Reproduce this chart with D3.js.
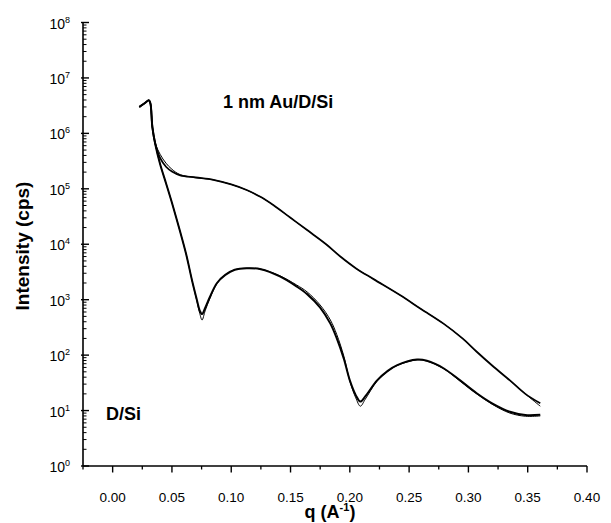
<!DOCTYPE html>
<html>
<head>
<meta charset="utf-8">
<script src="https://cdn.jsdelivr.net/npm/d3@7"></script>
<style>
  body { margin: 0; background: #fff; }
  text { font-family: "Liberation Sans", Arial, sans-serif; fill: #000; }
</style>
</head>
<body>
<div id="chart"></div>
<script>
// q values (A^-1) and intensities (cps)
const qAu = [0.0225, 0.027, 0.0305, 0.0318, 0.0335, 0.036, 0.040, 0.045, 0.050, 0.057, 0.070, 0.085,
  0.100, 0.113, 0.125, 0.136, 0.150, 0.164, 0.180, 0.192, 0.205, 0.220, 0.2426, 0.260, 0.279,
  0.295, 0.307, 0.320, 0.335, 0.348, 0.3606];
const auA = [3.0e6, 3.5e6, 3.95e6, 3.5e6, 1.3e6, 6.5e5, 3.6e5, 2.5e5, 2.05e5, 1.75e5, 1.6e5, 1.45e5,
  1.2e5, 9.5e4, 7.1e4, 5.0e4, 3.0e4, 1.8e4, 1.0e4, 6.0e3, 3.7e3, 2.35e3, 1.2e3, 6.8e2, 3.7e2,
  2.0e2, 1.15e2, 6.5e1, 3.5e1, 2.0e1, 1.35e1];
const auB = [3.0e6, 3.5e6, 3.95e6, 3.5e6, 1.3e6, 6.6e5, 4.2e5, 2.9e5, 2.25e5, 1.8e5, 1.6e5, 1.45e5,
  1.2e5, 9.5e4, 7.1e4, 5.0e4, 3.0e4, 1.8e4, 1.0e4, 6.0e3, 3.7e3, 2.35e3, 1.2e3, 6.8e2, 3.7e2,
  2.0e2, 1.15e2, 6.5e1, 3.5e1, 2.0e1, 1.2e1];

const qSi = [0.0225, 0.027, 0.0305, 0.0318, 0.0335, 0.036, 0.040, 0.045, 0.050, 0.057, 0.062, 0.067,
  0.071, 0.0735, 0.0754, 0.078, 0.082, 0.088, 0.095, 0.103, 0.113, 0.125, 0.141, 0.155, 0.164,
  0.175, 0.1836, 0.189, 0.195, 0.200, 0.205, 0.2089, 0.213, 0.223, 0.232, 0.240, 0.2567, 0.265,
  0.279, 0.293, 0.307, 0.320, 0.335, 0.348, 0.3606];
const siA = [3.0e6, 3.5e6, 3.95e6, 3.5e6, 1.3e6, 6.3e5, 2.8e5, 1.26e5, 5.6e4, 1.66e4, 6.6e3, 2.2e3,
  1.0e3, 6.3e2, 5.5e2, 7.1e2, 1.12e3, 2.0e3, 2.8e3, 3.47e3, 3.7e3, 3.55e3, 2.63e3, 1.74e3, 1.26e3,
  7.2e2, 3.7e2, 2.0e2, 8.5e1, 3.5e1, 1.9e1, 1.45e1, 1.8e1, 3.5e1, 5.2e1, 6.6e1, 8.3e1, 7.9e1,
  5.8e1, 3.5e1, 2.05e1, 1.35e1, 9.5e0, 8.3e0, 8.4e0];
const siB = [3.0e6, 3.5e6, 3.95e6, 3.5e6, 1.3e6, 6.3e5, 2.8e5, 1.26e5, 5.6e4, 1.66e4, 6.6e3, 2.2e3,
  9.5e2, 5.6e2, 4.3e2, 6.3e2, 1.05e3, 1.95e3, 2.8e3, 3.47e3, 3.7e3, 3.55e3, 2.7e3, 1.85e3, 1.38e3,
  8.0e2, 4.3e2, 2.35e2, 9.5e1, 3.4e1, 1.7e1, 1.2e1, 1.6e1, 3.4e1, 5.1e1, 6.5e1, 8.2e1, 7.8e1,
  5.7e1, 3.4e1, 2.0e1, 1.3e1, 9.0e0, 7.9e0, 8.0e0];

const xTicks = [0.00, 0.05, 0.10, 0.15, 0.20, 0.25, 0.30, 0.35, 0.40];
const yExponents = [0, 1, 2, 3, 4, 5, 6, 7, 8];

const WIDTH = 611;
const HEIGHT = 523;
const DIMENSIONS = { left: 83, right: 587, top: 22.5, bottom: 466 };

const xScale = d3.scaleLinear()
  .domain([-0.025, 0.40])
  .range([DIMENSIONS.left, DIMENSIONS.right]);

const yScale = d3.scaleLog()
  .domain([1, 1e8])
  .range([DIMENSIONS.bottom, DIMENSIONS.top]);

const svg = d3.select("#chart")
  .append("svg")
  .attr("width", WIDTH)
  .attr("height", HEIGHT);

// x axis
const xAxis = svg.append("g").attr("id", "x-axis");
xAxis.append("line")
  .attr("x1", DIMENSIONS.left).attr("x2", DIMENSIONS.right)
  .attr("y1", DIMENSIONS.bottom).attr("y2", DIMENSIONS.bottom)
  .attr("stroke", "#000").attr("stroke-width", 1.6);

const xMinor = d3.range(-0.025, 0.40, 0.05);
xAxis.selectAll(".minor").data(xMinor).join("line")
  .attr("class", "minor")
  .attr("x1", d => xScale(d)).attr("x2", d => xScale(d))
  .attr("y1", DIMENSIONS.bottom).attr("y2", DIMENSIONS.bottom + 3.5)
  .attr("stroke", "#000").attr("stroke-width", 1.3);

xAxis.selectAll(".major").data(xTicks).join("line")
  .attr("class", "major")
  .attr("x1", d => xScale(d)).attr("x2", d => xScale(d))
  .attr("y1", DIMENSIONS.bottom).attr("y2", DIMENSIONS.bottom + 6.5)
  .attr("stroke", "#000").attr("stroke-width", 1.4);

xAxis.selectAll(".label").data(xTicks).join("text")
  .attr("class", "label")
  .attr("x", d => xScale(d))
  .attr("y", DIMENSIONS.bottom + 36)
  .attr("text-anchor", "middle")
  .style("font-size", "13.5px")
  .text(d => d3.format(".2f")(d));

// y axis
const yAxis = svg.append("g").attr("id", "y-axis");
yAxis.append("line")
  .attr("x1", DIMENSIONS.left).attr("x2", DIMENSIONS.left)
  .attr("y1", DIMENSIONS.top).attr("y2", DIMENSIONS.bottom)
  .attr("stroke", "#000").attr("stroke-width", 1.6);

const yMinor = [];
yExponents.slice(0, -1).forEach(e => {
  for (let m = 2; m <= 9; m++) yMinor.push(m * Math.pow(10, e));
});
yAxis.selectAll(".minor").data(yMinor).join("line")
  .attr("class", "minor")
  .attr("x1", DIMENSIONS.left).attr("x2", DIMENSIONS.left + 3.5)
  .attr("y1", d => yScale(d)).attr("y2", d => yScale(d))
  .attr("stroke", "#000").attr("stroke-width", 1);

yAxis.selectAll(".major").data(yExponents).join("line")
  .attr("class", "major")
  .attr("x1", DIMENSIONS.left - 2).attr("x2", DIMENSIONS.left + 6)
  .attr("y1", d => yScale(Math.pow(10, d))).attr("y2", d => yScale(Math.pow(10, d)))
  .attr("stroke", "#000").attr("stroke-width", 1.4);

const yLabels = yAxis.selectAll(".label").data(yExponents).join("text")
  .attr("class", "label")
  .attr("x", DIMENSIONS.left - 13)
  .attr("y", d => yScale(Math.pow(10, d)) + 6)
  .attr("text-anchor", "end")
  .style("font-size", "14px");
yLabels.append("tspan").text("10");
yLabels.append("tspan")
  .attr("dy", -6)
  .style("font-size", "9px")
  .text(d => d);

// axis titles
svg.append("text")
  .attr("transform", `translate(29, 246) rotate(-90)`)
  .attr("text-anchor", "middle")
  .style("font-size", "19px")
  .style("font-weight", "bold")
  .text("Intensity (cps)");

svg.append("text")
  .attr("x", 330)
  .attr("y", 518)
  .attr("text-anchor", "middle")
  .style("font-size", "18px")
  .style("font-weight", "bold")
  .html('q (A<tspan dy="-7" font-size="11px">-1</tspan><tspan dy="7">)</tspan>');

// annotations
svg.append("text")
  .attr("x", 223).attr("y", 108)
  .style("font-size", "18px").style("font-weight", "bold")
  .text("1 nm Au/D/Si");

svg.append("text")
  .attr("x", 106).attr("y", 420)
  .style("font-size", "18px").style("font-weight", "bold")
  .text("D/Si");

// curves
const line = d3.line()
  .x(d => xScale(d[0]))
  .y(d => yScale(d[1]))
  .curve(d3.curveCatmullRom.alpha(0.5));

const series = [
  { q: qAu, v: auB, w: 1.0 },
  { q: qAu, v: auA, w: 1.8 },
  { q: qSi, v: siB, w: 1.0 },
  { q: qSi, v: siA, w: 2.0 },
];

svg.append("g").attr("id", "curves")
  .selectAll("path").data(series).join("path")
  .attr("d", s => line(s.q.map((q, i) => [q, s.v[i]])))
  .attr("fill", "none")
  .attr("stroke", "#000")
  .attr("stroke-width", s => s.w);
</script>
</body>
</html>
